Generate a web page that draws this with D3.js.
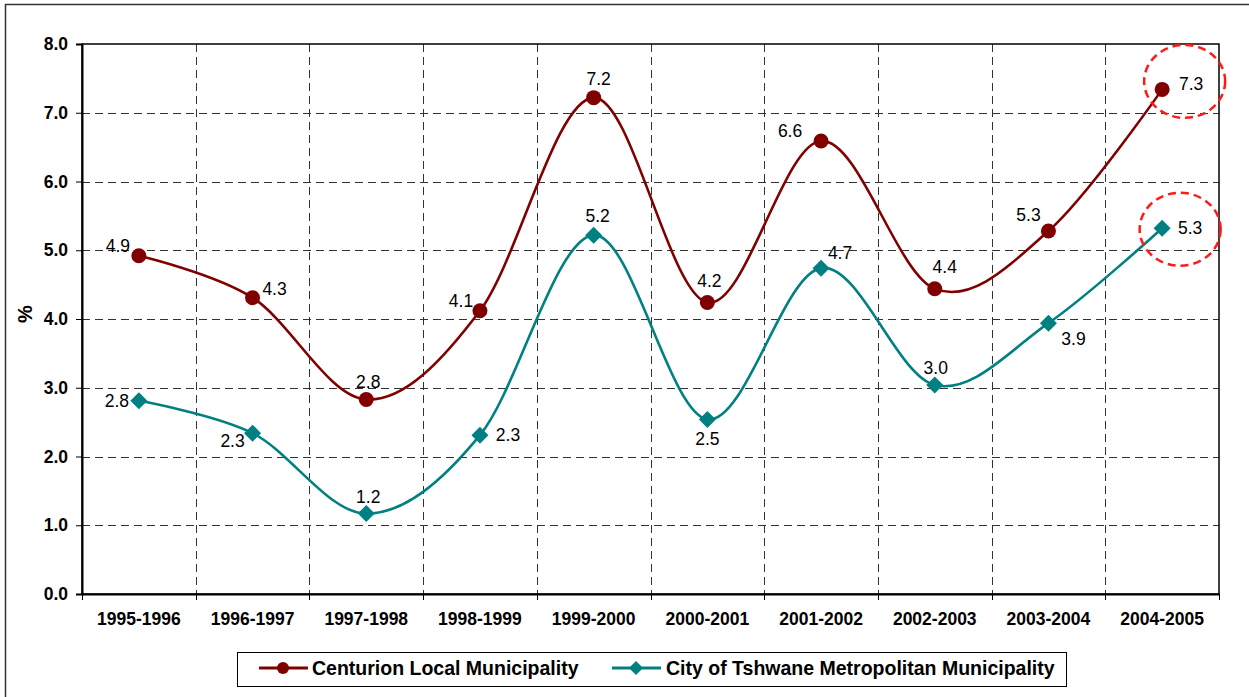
<!DOCTYPE html>
<html>
<head>
<meta charset="utf-8">
<script src="https://cdn.jsdelivr.net/npm/d3@7"></script>
<style>
  html, body { margin: 0; padding: 0; background: #fff; }
  svg { display: block; font-family: "Liberation Sans", Arial, sans-serif; }
</style>
</head>
<body>
<svg id="chart" width="1249" height="697"></svg>
<script>
// Annual growth (%) by financial year
const categories = ["1995-1996", "1996-1997", "1997-1998", "1998-1999", "1999-2000",
                    "2000-2001", "2001-2002", "2002-2003", "2003-2004", "2004-2005"];
const centurion = [4.92, 4.31, 2.83, 4.12, 7.22, 4.24, 6.59, 4.44, 5.28, 7.34];
const tshwane   = [2.81, 2.34, 1.17, 2.31, 5.22, 2.54, 4.74, 3.04, 3.94, 5.32];
const yTicks = [0, 1, 2, 3, 4, 5, 6, 7, 8];
const seriesNames = ["Centurion Local Municipality", "City of Tshwane Metropolitan Municipality"];

// Data label placement (dx, dy from the marker to the label centre)
const centurionLabelOffsets = [[-21, -10], [22, -9], [2, -18], [-19, -10], [5, -19],
                               [2, -22], [-31, -10], [10, -22], [-20, -16], [29, -6]];
const tshwaneLabelOffsets   = [[-22, 0], [-20, 8], [2, -17], [28, 0], [4, -19],
                               [0, 19], [19, -15], [1, -17], [25, 16], [28, 0]];

const COL_C = "#800000";
const COL_T = "#008080";

const svg = d3.select("#chart");

// Outer chart frame
svg.append("rect")
  .attr("x", 5.5).attr("y", 4.5).attr("width", 1260).attr("height", 710)
  .attr("fill", "#fff").attr("stroke", "#333").attr("stroke-width", 1.5);

const plot = { left: 82, right: 1219, top: 44, bottom: 594 };

const x = d3.scaleBand().domain(categories).range([plot.left, plot.right]);
const y = d3.scaleLinear().domain([0, 8]).range([plot.bottom, plot.top]);
const cx = c => x(c) + x.bandwidth() / 2;

// Horizontal grid
svg.append("g")
  .selectAll("line").data(yTicks.filter(t => t > 0 && t < 8)).join("line")
  .attr("x1", plot.left).attr("x2", plot.right)
  .attr("y1", d => Math.round(y(d)) + 0.5).attr("y2", d => Math.round(y(d)) + 0.5)
  .attr("stroke", "#333").attr("stroke-width", 1).attr("stroke-dasharray", "8,5");

// Vertical grid at category boundaries
svg.append("g")
  .selectAll("line").data(categories.slice(1)).join("line")
  .attr("x1", d => Math.round(x(d)) + 0.5).attr("x2", d => Math.round(x(d)) + 0.5)
  .attr("y1", plot.top).attr("y2", plot.bottom)
  .attr("stroke", "#333").attr("stroke-width", 1).attr("stroke-dasharray", "8,5");

// Plot area border
svg.append("rect")
  .attr("x", plot.left).attr("y", plot.top)
  .attr("width", plot.right - plot.left).attr("height", plot.bottom - plot.top)
  .attr("fill", "none").attr("stroke", "#000").attr("stroke-width", 1.5);

// Y axis
const yAxis = d3.axisLeft(y).tickValues(yTicks).tickFormat(d3.format(".1f"))
  .tickSize(6).tickPadding(8);
const gy = svg.append("g").attr("transform", `translate(${plot.left},0)`).call(yAxis);
gy.select(".domain").attr("stroke", "#000").attr("stroke-width", 2);
gy.selectAll(".tick line").attr("stroke", "#000");
gy.selectAll("text").attr("font-size", 17.5).attr("font-weight", "bold")
  .attr("fill", "#000").attr("font-family", "Liberation Sans, Arial, sans-serif");

// X axis: labels at band centres, ticks at band boundaries
const xAxis = d3.axisBottom(x).tickSize(0).tickPadding(19);
const gx = svg.append("g").attr("transform", `translate(0,${plot.bottom})`).call(xAxis);
gx.select(".domain").attr("stroke", "#000").attr("stroke-width", 2);
gx.selectAll("text").attr("font-size", 17.5).attr("font-weight", "bold")
  .attr("fill", "#000").attr("font-family", "Liberation Sans, Arial, sans-serif");
svg.append("g")
  .selectAll("line").data(categories.concat(["end"])).join("line")
  .attr("x1", (d, i) => i < categories.length ? Math.round(x(d)) + 0.5 : plot.right + 0.5)
  .attr("x2", (d, i) => i < categories.length ? Math.round(x(d)) + 0.5 : plot.right + 0.5)
  .attr("y1", plot.bottom).attr("y2", plot.bottom + 6)
  .attr("stroke", "#000").attr("stroke-width", 1);

// Axis title
svg.append("text")
  .attr("transform", `translate(32,314) rotate(-90)`)
  .attr("text-anchor", "middle")
  .attr("font-size", 20).attr("font-weight", "bold").text("%");

// Smoothed lines
const line = d3.line()
  .x((d, i) => cx(categories[i]))
  .y(d => y(d))
  .curve(d3.curveCatmullRom.alpha(0));

svg.append("path").datum(centurion).attr("d", line)
  .attr("fill", "none").attr("stroke", COL_C).attr("stroke-width", 2.6);
svg.append("path").datum(tshwane).attr("d", line)
  .attr("fill", "none").attr("stroke", COL_T).attr("stroke-width", 2.6);

const diamond = s => `M0,${-s}L${s},0L0,${s}L${-s},0Z`;

// Markers
svg.append("g").selectAll("circle").data(centurion).join("circle")
  .attr("cx", (d, i) => cx(categories[i])).attr("cy", d => y(d))
  .attr("r", 7.5).attr("fill", COL_C);
svg.append("g").selectAll("path").data(tshwane).join("path")
  .attr("transform", (d, i) => `translate(${cx(categories[i])},${y(d)})`)
  .attr("d", diamond(8.5)).attr("fill", COL_T);

// Data labels
const fmt = d3.format(".1f");
function labels(values, offsets) {
  svg.append("g").selectAll("text").data(values).join("text")
    .attr("x", (d, i) => cx(categories[i]) + offsets[i][0])
    .attr("y", (d, i) => y(d) + offsets[i][1])
    .attr("dy", "0.35em")
    .attr("text-anchor", "middle")
    .attr("font-size", 17.5).attr("fill", "#000")
    .text(d => fmt(d));
}
labels(centurion, centurionLabelOffsets);
labels(tshwane, tshwaneLabelOffsets);

// Highlight rings around the latest values
const last = categories.length - 1;
[[centurion[last], 22.5, -8], [tshwane[last], 18, 1]].forEach(([v, dx, dy]) => {
  svg.append("ellipse")
    .attr("cx", cx(categories[last]) + dx).attr("cy", y(v) + dy)
    .attr("rx", 40.5).attr("ry", 36.5)
    .attr("fill", "none").attr("stroke", "#ff1a1a")
    .attr("stroke-width", 2.5).attr("stroke-dasharray", "8,5");
});

// Legend
const legend = svg.append("g");
legend.append("rect")
  .attr("x", 237.5).attr("y", 652.5).attr("width", 829).attr("height", 34)
  .attr("fill", "#fff").attr("stroke", "#000").attr("stroke-width", 1);

const items = [
  { name: seriesNames[0], color: COL_C, x0: 259, tx: 312, shape: "circle" },
  { name: seriesNames[1], color: COL_T, x0: 612, tx: 666, shape: "diamond" }
];
items.forEach(it => {
  const g = legend.append("g");
  g.append("line").attr("x1", it.x0).attr("x2", it.x0 + 49)
    .attr("y1", 668).attr("y2", 668)
    .attr("stroke", it.color).attr("stroke-width", 3);
  if (it.shape === "circle") {
    g.append("circle").attr("cx", it.x0 + 24).attr("cy", 668).attr("r", 6).attr("fill", it.color);
  } else {
    g.append("path").attr("transform", `translate(${it.x0 + 24},668)`)
      .attr("d", diamond(7)).attr("fill", it.color);
  }
  g.append("text").attr("x", it.tx).attr("y", 675)
    .attr("font-size", 19.5).attr("font-weight", "bold").attr("fill", "#000")
    .text(it.name);
});
</script>
</body>
</html>
